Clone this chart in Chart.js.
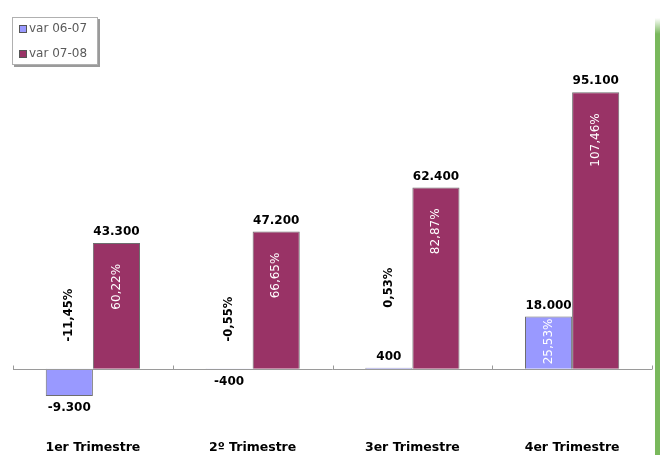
<!DOCTYPE html>
<html>
<head>
<meta charset="utf-8">
<title>Variación trimestral</title>
<script src="https://cdn.jsdelivr.net/npm/chart.js"></script>
<style>
  body { margin: 0; background: #ffffff; }
  #wrap { position: relative; width: 660px; height: 455px; overflow: hidden; }
  #stripe { position: absolute; left: 655px; top: 18px; width: 5px; height: 437px;
            background: linear-gradient(to bottom, #ffffff 0px, #79b85c 16px, #79b85c 100%); }
</style>
</head>
<body>
<div id="wrap">
  <canvas id="mixed-chart" width="660" height="455"></canvas>
  <div id="stripe"></div>
</div>
<script>
// data
const categories = ["1er Trimestre", "2º Trimestre", "3er Trimestre", "4er Trimestre"];
const seriesNames = ["var 06-07", "var 07-08"];
const var0607 = [-9300, -400, 400, 18000];
const var0708 = [43300, 47200, 62400, 95100];
const pct0607 = [-11.45, -0.55, 0.53, 25.53];
const pct0708 = [60.22, 66.65, 82.87, 107.46];

const BLUE = "#9999ff";
const PLUM = "#993366";

function fmtNum(v)
{
    const s = Math.abs(v).toString().replace(/\B(?=(\d{3})+(?!\d))/g, ".");
    return (v < 0 ? "-" : "") + s;
}
function fmtPct(v)
{
    return v.toFixed(2).replace(".", ",") + "%";
}

// zero line, tick marks, value and percent labels
const barLabels = {
    id: "barLabels",
    afterDatasetsDraw: function(chart)
    {
        const ctx = chart.ctx;
        const area = chart.chartArea;
        const xs = chart.scales.x;
        const zero = Math.round(chart.scales.y.getPixelForValue(0)) + 0.5;

        ctx.save();
        ctx.strokeStyle = "#9a9a9a";
        ctx.lineWidth = 1;
        ctx.beginPath();
        ctx.moveTo(area.left, zero);
        ctx.lineTo(area.right, zero);
        for (let i = 0; i <= categories.length; i++)
        {
            const tx = Math.round(xs.getPixelForValue(i - 0.5)) + 0.5;
            ctx.moveTo(tx, zero - 4);
            ctx.lineTo(tx, zero);
        }
        ctx.stroke();

        const pcts = [pct0607, pct0708];
        chart.data.datasets.forEach(function(ds, di)
        {
            const meta = chart.getDatasetMeta(di);
            meta.data.forEach(function(bar, i)
            {
                const v = ds.data[i];
                const top = Math.min(bar.y, bar.base);
                const bottom = Math.max(bar.y, bar.base);

                // value label
                ctx.fillStyle = "#000000";
                ctx.font = "bold 12px 'DejaVu Sans'";
                ctx.textAlign = "center";
                ctx.textBaseline = "middle";
                if (v >= 0)
                    ctx.fillText(fmtNum(v), bar.x, top - 11);
                else
                    ctx.fillText(fmtNum(v), bar.x, bottom + 12);

                // percent label, rotated
                const txt = fmtPct(pcts[di][i]);
                ctx.save();
                if (di === 1 || bottom - top > 45)
                {
                    ctx.translate(bar.x, top + (di === 1 ? 21 : 2));
                    ctx.rotate(-Math.PI / 2);
                    ctx.fillStyle = "#ffffff";
                    ctx.font = "12px 'DejaVu Sans'";
                    ctx.textAlign = "right";
                }
                else
                {
                    const y0 = v < 0 ? zero - 28 : top - 60;
                    ctx.translate(bar.x, y0);
                    ctx.rotate(-Math.PI / 2);
                    ctx.fillStyle = "#000000";
                    ctx.font = "bold 11.5px 'DejaVu Sans'";
                    ctx.textAlign = "left";
                }
                ctx.textBaseline = "middle";
                ctx.fillText(txt, 0, 0);
                ctx.restore();
            });
        });
        ctx.restore();
    }
};

// boxed legend in the top left corner
const boxLegend = {
    id: "boxLegend",
    afterDraw: function(chart)
    {
        const ctx = chart.ctx;
        const bx = 12, by = 17, bw = 86, bh = 48;
        ctx.save();
        ctx.fillStyle = "#9a9a9a";
        ctx.fillRect(bx + 2, by + 2, bw, bh);
        ctx.fillStyle = "#ffffff";
        ctx.fillRect(bx, by, bw, bh);
        ctx.strokeStyle = "#b0b0b0";
        ctx.lineWidth = 1;
        ctx.strokeRect(bx + 0.5, by + 0.5, bw - 1, bh - 1);

        ctx.font = "12px 'DejaVu Sans'";
        ctx.textAlign = "left";
        ctx.textBaseline = "middle";
        chart.data.datasets.forEach(function(ds, i)
        {
            const cy = by + 12 + i * 25;
            ctx.fillStyle = ds.backgroundColor;
            ctx.fillRect(bx + 7, cy - 4, 8, 8);
            ctx.strokeStyle = "#555555";
            ctx.strokeRect(bx + 7.5, cy - 3.5, 7, 7);
            ctx.fillStyle = "#5a5a5a";
            ctx.fillText(ds.label, bx + 17, cy);
        });
        ctx.restore();
    }
};

new Chart(document.getElementById("mixed-chart"),
{
    type: "bar",
    data:
    {
        labels: categories,
        datasets:
        [{
            label: seriesNames[0],
            data: var0607,
            backgroundColor: BLUE,
            borderColor: "#6e6e6e",
            borderWidth: 1
        },
        {
            label: seriesNames[1],
            data: var0708,
            backgroundColor: PLUM,
            borderColor: "#6e6e6e",
            borderWidth: 1
        }]
    },
    options:
    {
        responsive: false,
        animation: false,
        layout: { padding: { top: 49, left: 13, right: 8, bottom: 0 } },
        categoryPercentage: 0.59,
        barPercentage: 1.0,
        plugins:
        {
            legend: { display: false },
            tooltip: { enabled: false }
        },
        scales:
        {
            x:
            {
                grid: { display: false, drawTicks: false },
                border: { display: false },
                afterFit: function(scale) { scale.height = 28; },
                ticks:
                {
                    padding: 13,
                    color: "#000000",
                    font: { family: "'DejaVu Sans'", size: 12.5, weight: "bold" }
                }
            },
            y:
            {
                display: false,
                min: -20000,
                max: 110000
            }
        }
    },
    plugins: [barLabels, boxLegend]
});
</script>
</body>
</html>
